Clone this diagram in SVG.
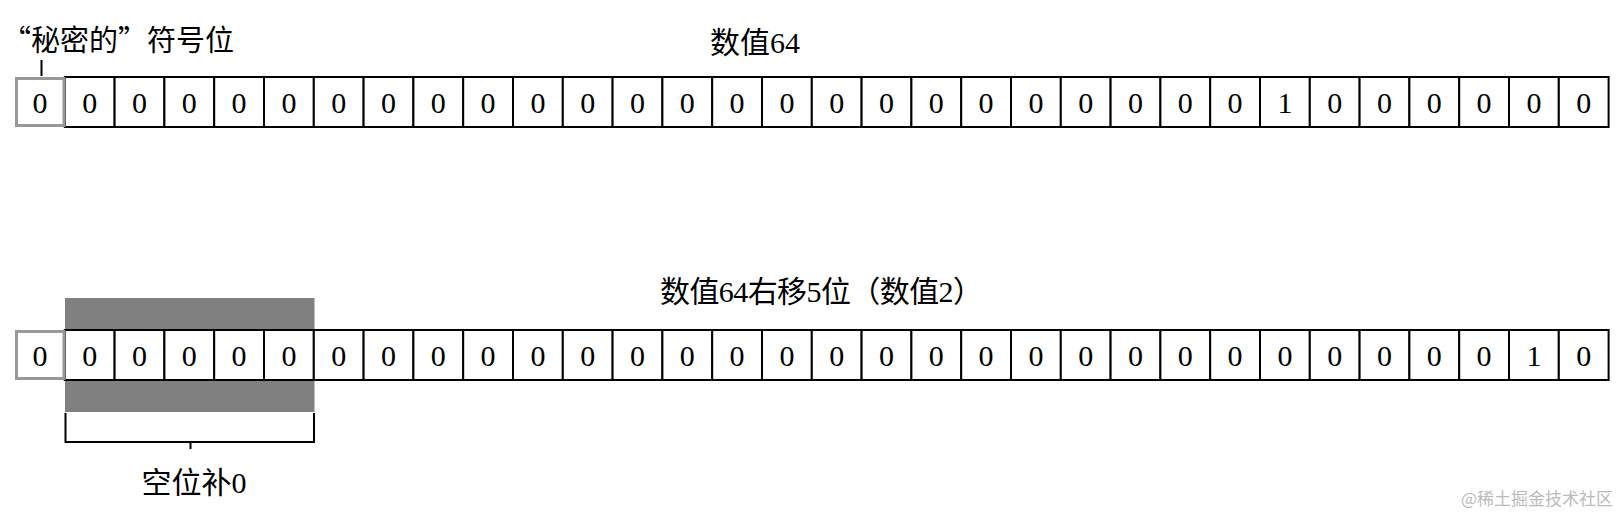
<svg xmlns="http://www.w3.org/2000/svg" width="1624" height="526" viewBox="0 0 1624 526">
<style>
.c{fill:#fff;stroke:#000;stroke-width:2}
.s{fill:#fff;stroke:#999;stroke-width:3}
.d{font-family:"Liberation Serif","Noto Sans CJK SC",serif;font-size:30px;text-anchor:middle;fill:#000}
.t{font-family:"Liberation Serif","Noto Sans CJK SC",serif;font-size:30px;fill:#000}
.q{font-family:"Noto Sans CJK SC",sans-serif}
.ln{fill:none;stroke:#000;stroke-width:2}
.wm{font-family:"Noto Sans CJK SC",sans-serif;font-size:17px;fill:#bbb;text-anchor:end}
</style>
<rect width="1624" height="526" fill="#fff"/>
<defs>
<g id="z"><rect class="c" x="0" y="0" width="49.8" height="50"/><text class="d" x="24.9" y="36">0</text></g>
<g id="o"><rect class="c" x="0" y="0" width="49.8" height="50"/><text class="d" x="24.9" y="36">1</text></g>
<g id="sg"><rect class="s" x="1.5" y="1.5" width="47.5" height="47" /><text class="d" x="24.9" y="36">0</text></g>
</defs>

<g id="label-sign"><text class="t" x="2" y="51" style="font-size:29px"><tspan class="q">“</tspan>秘密的<tspan class="q">”</tspan>符号位</text></g>
<g id="title1"><text class="t" x="710" y="53">数值64</text></g>

<g id="row1">
<use href="#z" x="64.8" y="77"/><use href="#z" x="114.6" y="77"/><use href="#z" x="164.4" y="77"/><use href="#z" x="214.2" y="77"/>
<use href="#z" x="264" y="77"/><use href="#z" x="313.8" y="77"/><use href="#z" x="363.6" y="77"/><use href="#z" x="413.4" y="77"/>
<use href="#z" x="463.2" y="77"/><use href="#z" x="513" y="77"/><use href="#z" x="562.8" y="77"/><use href="#z" x="612.6" y="77"/>
<use href="#z" x="662.4" y="77"/><use href="#z" x="712.2" y="77"/><use href="#z" x="762" y="77"/><use href="#z" x="811.8" y="77"/>
<use href="#z" x="861.6" y="77"/><use href="#z" x="911.4" y="77"/><use href="#z" x="961.2" y="77"/><use href="#z" x="1011" y="77"/>
<use href="#z" x="1060.8" y="77"/><use href="#z" x="1110.6" y="77"/><use href="#z" x="1160.4" y="77"/><use href="#z" x="1210.2" y="77"/>
<use href="#o" x="1260" y="77"/><use href="#z" x="1309.8" y="77"/><use href="#z" x="1359.6" y="77"/><use href="#z" x="1409.4" y="77"/>
<use href="#z" x="1459.2" y="77"/><use href="#z" x="1509" y="77"/><use href="#z" x="1558.8" y="77"/>
</g>
<g id="sign1"><use href="#sg" x="15" y="77"/></g>

<g id="title2"><text class="t" x="660" y="302" textLength="323" lengthAdjust="spacing">数值64右移5位（数值2）</text></g>

<g id="shade"><rect x="65" y="298" width="249.5" height="114" fill="#808080"/></g>

<g id="row2">
<use href="#z" x="64.8" y="330"/><use href="#z" x="114.6" y="330"/><use href="#z" x="164.4" y="330"/><use href="#z" x="214.2" y="330"/>
<use href="#z" x="264" y="330"/><use href="#z" x="313.8" y="330"/><use href="#z" x="363.6" y="330"/><use href="#z" x="413.4" y="330"/>
<use href="#z" x="463.2" y="330"/><use href="#z" x="513" y="330"/><use href="#z" x="562.8" y="330"/><use href="#z" x="612.6" y="330"/>
<use href="#z" x="662.4" y="330"/><use href="#z" x="712.2" y="330"/><use href="#z" x="762" y="330"/><use href="#z" x="811.8" y="330"/>
<use href="#z" x="861.6" y="330"/><use href="#z" x="911.4" y="330"/><use href="#z" x="961.2" y="330"/><use href="#z" x="1011" y="330"/>
<use href="#z" x="1060.8" y="330"/><use href="#z" x="1110.6" y="330"/><use href="#z" x="1160.4" y="330"/><use href="#z" x="1210.2" y="330"/>
<use href="#z" x="1260" y="330"/><use href="#z" x="1309.8" y="330"/><use href="#z" x="1359.6" y="330"/><use href="#z" x="1409.4" y="330"/>
<use href="#z" x="1459.2" y="330"/><use href="#o" x="1509" y="330"/><use href="#z" x="1558.8" y="330"/>
</g>
<g id="sign2"><use href="#sg" x="15" y="330"/></g>

<g id="connectors">
<path class="ln" d="M41.5 60V76"/>
<path class="ln" d="M65.5 413V442H314V413"/>
<path class="ln" d="M190.5 442V449"/>
</g>

<g id="label-fill"><text class="t" x="194" y="493" text-anchor="middle">空位补0</text></g>

<text class="wm" x="1613" y="505">@稀土掘金技术社区</text>
</svg>
